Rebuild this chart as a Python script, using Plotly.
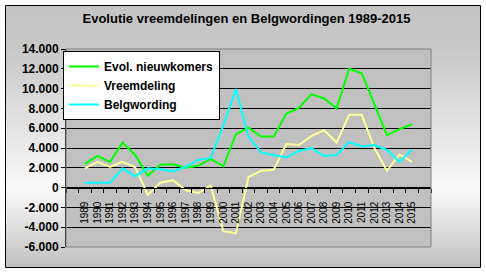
import plotly.graph_objects as go

# ---------------- data ----------------
years = list(range(1989, 2016))
nieuwkomers = [2400, 3200, 2600, 4550, 3300, 1200, 2300, 2350, 2000, 2200, 2900, 2150,
               5400, 6050, 5150, 5150, 7450, 8050, 9450, 9000, 8000, 12000, 11550, 8400,
               5300, 5900, 6400]
vreemdeling = [1950, 2600, 2100, 2600, 2050, -750, 500, 750, -250, -550, 200, -4400,
               -4600, 1050, 1700, 1800, 4400, 4300, 5200, 5800, 4550, 7350, 7350, 4000,
               1700, 3350, 2600]
belgwording = [500, 500, 500, 1950, 1150, 1950, 1850, 1650, 2100, 2800, 3000, 6300,
               9950, 5150, 3550, 3300, 3050, 3700, 4000, 3200, 3300, 4600, 4150, 4300,
               3800, 2600, 3850]
series_names = ["Evol. nieuwkomers", "Vreemdeling", "Belgwording"]
series_colors = ["#00FF00", "#FFFF99", "#00FFFF"]
y_ticks = [-6000, -4000, -2000, 0, 2000, 4000, 6000, 8000, 10000, 12000, 14000]
y_ticktext = ["-6.000", "-4.000", "-2.000", "0", "2.000", "4.000", "6.000", "8.000",
              "10.000", "12.000", "14.000"]
title_text = "Evolutie vreemdelingen en Belgwordingen 1989-2015"

# ---------------- layout geometry ----------------
W, H = 486, 273
ML, MR, MT, MB = 66, 55, 49, 26
PW, PH = W - ML - MR, H - MT - MB
FONT = "Arial, Liberation Sans, sans-serif"


def px(x):
    return (x - ML) / PW


def py(y):
    return (H - MB - y) / PH


fig = go.Figure()
for name, vals, col in zip(series_names, [nieuwkomers, vreemdeling, belgwording], series_colors):
    fig.add_trace(go.Scatter(x=years, y=vals, mode="lines", name=name,
                             line=dict(color=col, width=2)))

shapes = []
# chart area gradient background
stops = [(5, 196), (50, 200), (190, 250), (268, 192)]


def gray_at(yy):
    for (y0, g0), (y1, g1) in zip(stops[:-1], stops[1:]):
        if y0 <= yy <= y1:
            return g0 + (g1 - g0) * (yy - y0) / (y1 - y0)
    return stops[-1][1]


top, bottom, left, right = 6, 267, 6, 480
yy = top
while yy < bottom:
    g = int(round(gray_at(yy + 1)))
    shapes.append(dict(type="rect", xref="paper", yref="paper",
                       x0=px(left), x1=px(right), y0=py(yy), y1=py(min(yy + 2, bottom)),
                       line=dict(width=0), fillcolor=f"rgb({g},{g},{g})", layer="below"))
    yy += 2
# outer border
shapes.append(dict(type="rect", xref="paper", yref="paper",
                   x0=px(5.5), x1=px(480.5), y0=py(267.5), y1=py(5.5),
                   line=dict(color="black", width=1), fillcolor="rgba(0,0,0,0)", layer="below"))
# plot area fill
shapes.append(dict(type="rect", xref="paper", yref="paper", x0=0, x1=1, y0=0, y1=1,
                   line=dict(width=0), fillcolor="#C0C0C0", layer="below"))
# plot area border (gray)
shapes.append(dict(type="rect", xref="paper", yref="paper", x0=0, x1=1, y0=0, y1=1,
                   line=dict(color="#808080", width=1), fillcolor="rgba(0,0,0,0)", layer="above"))

fig.update_layout(
    width=W, height=H,
    margin=dict(l=ML, r=MR, t=MT, b=MB, pad=0),
    paper_bgcolor="white",
    plot_bgcolor="rgba(0,0,0,0)",
    shapes=shapes,
    title=dict(text=title_text, x=246.5 / W, xref="container", xanchor="center",
               y=1 - 18 / H, yref="container", yanchor="middle",
               font=dict(family=FONT, size=13, color="black", weight="bold")),
    showlegend=True,
    legend=dict(x=px(63), y=py(51), xanchor="left", yanchor="top",
                bgcolor="white", bordercolor="black", borderwidth=1,
                font=dict(family=FONT, size=12, color="black", weight="bold"),
                itemwidth=30, tracegroupgap=0),
    xaxis=dict(range=[1987.5, 2016.5], tickmode="array", tickvals=years,
               ticktext=[str(y) for y in years], tickangle=-90,
               ticks="outside", ticklen=9, tickcolor="rgba(0,0,0,0)",
               tickfont=dict(family=FONT, size=10, color="black"),
               minor=dict(tickmode="linear", tick0=1987.5, dtick=1, ticks="outside",
                          ticklen=4, tickcolor="black", tickwidth=1, showgrid=False),
               showline=True, linecolor="black", linewidth=1,
               showgrid=False, zeroline=False,
               anchor="free", position=6000 / 20000, automargin=False, fixedrange=True),
    yaxis=dict(range=[-6000, 14000], tickmode="array", tickvals=y_ticks, ticktext=y_ticktext,
               ticks="outside", ticklen=4, tickcolor="black",
               tickfont=dict(family=FONT, size=12, color="black", weight="bold"),
               showline=True, linecolor="black", linewidth=1,
               showgrid=True, gridcolor="black", gridwidth=1, zeroline=False,
               automargin=False, fixedrange=True),
)

fig.write_html("out.html")
